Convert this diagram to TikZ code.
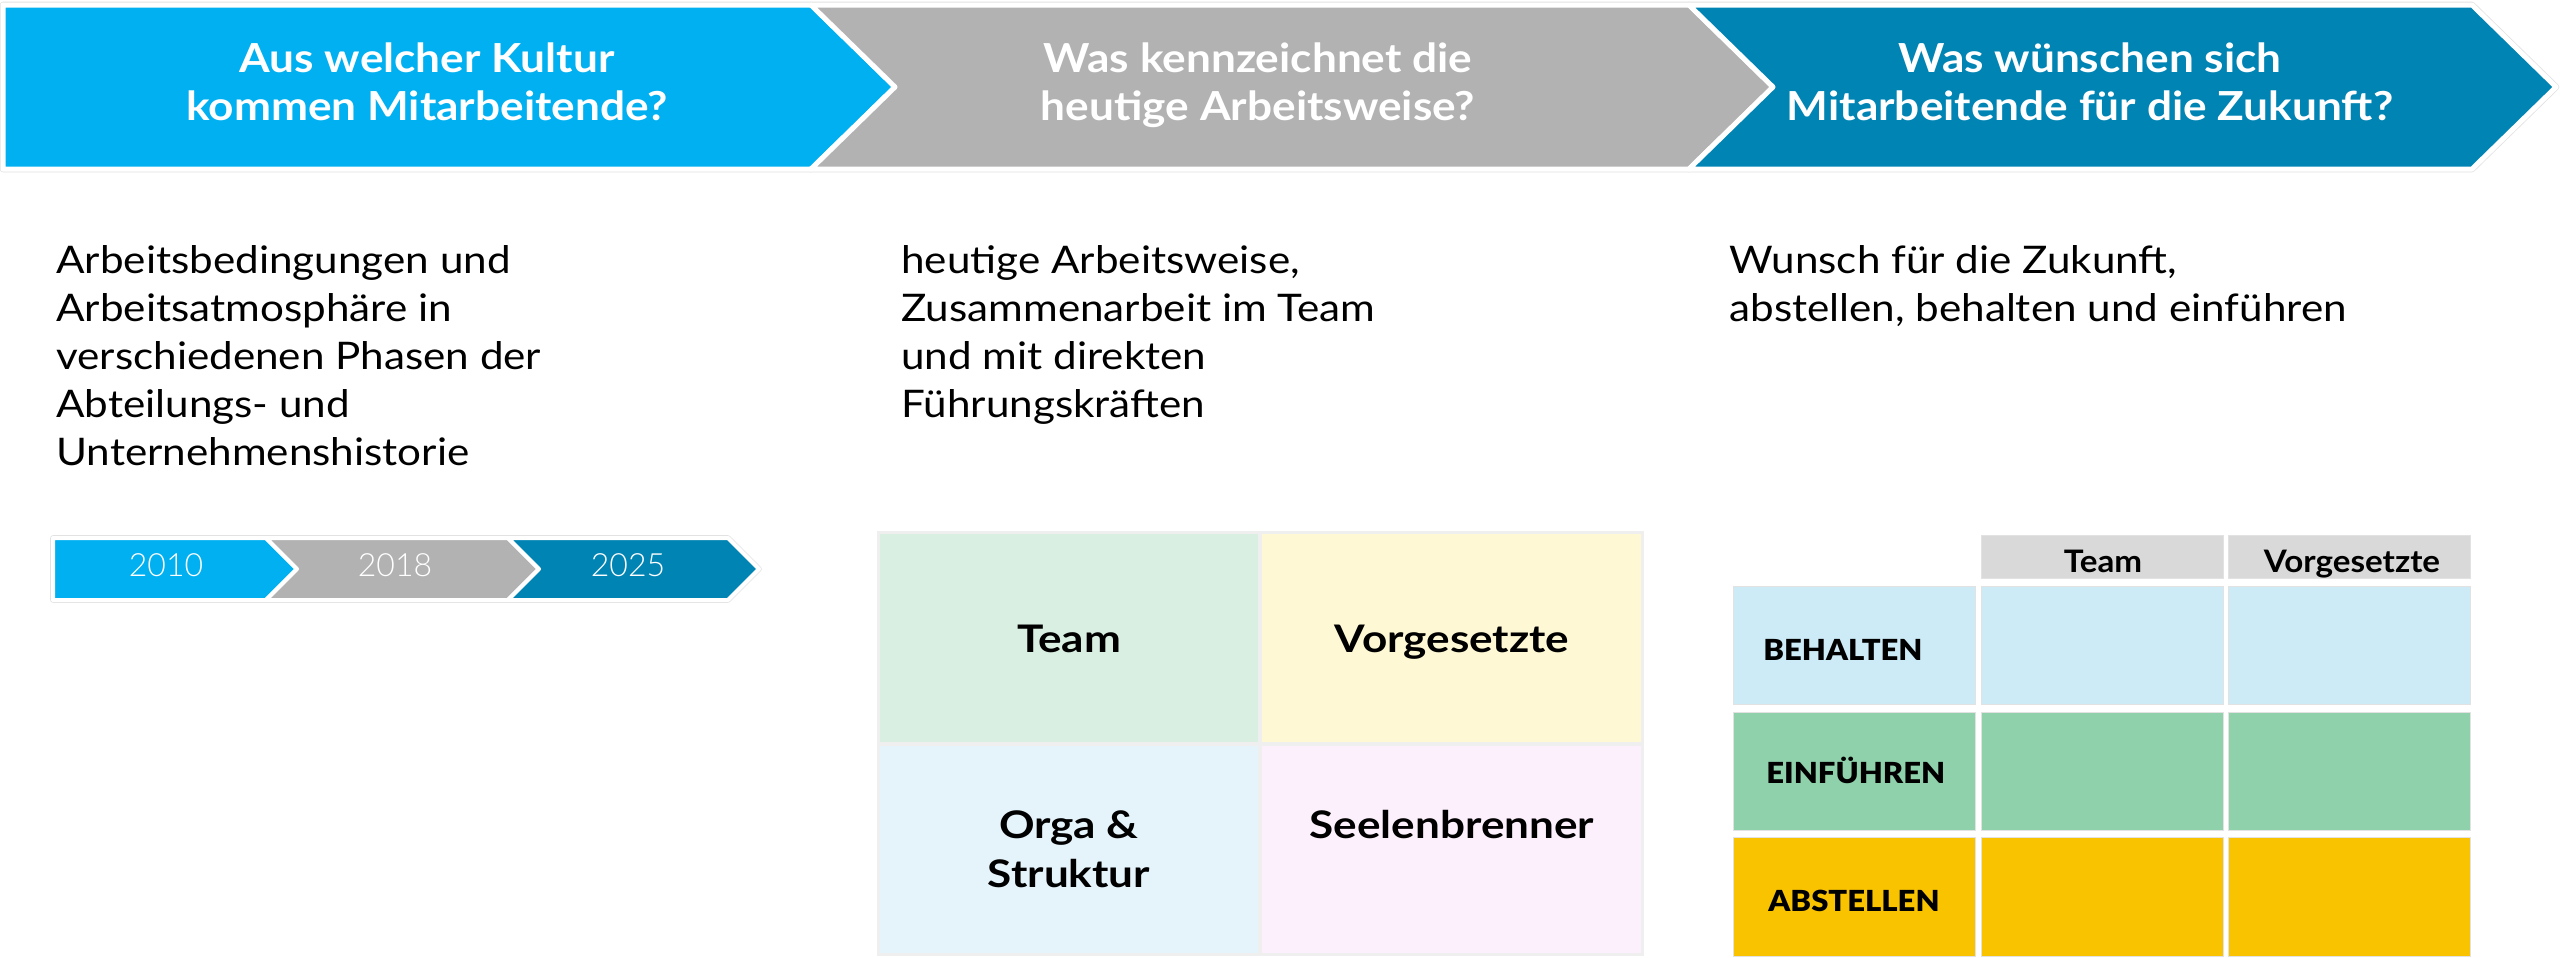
\documentclass[tikz,border=0pt]{standalone}
\usepackage{fontspec}
\setmainfont{Lato}
\newfontfamily\latolight{Lato Light}
\newfontfamily\labfont{Lato Black}[FakeStretch=1.07]
\newfontfamily\bodyfont{Lato}[FakeStretch=1.11]
\newfontfamily\headfont{Lato}[FakeStretch=1.105]
\newfontfamily\gridfont{Lato}[FakeStretch=1.16]
\newfontfamily\tabfont{Lato}[FakeStretch=1.07]
\definecolor{cyanC}{HTML}{00B0F0}
\definecolor{grayC}{HTML}{B2B2B2}
\definecolor{darkC}{HTML}{0084B4}
\definecolor{teamC}{HTML}{D8EFE2}
\definecolor{vorgC}{HTML}{FEF8D4}
\definecolor{orgaC}{HTML}{E5F4FB}
\definecolor{seelC}{HTML}{FCF0FC}
\definecolor{gridbg}{HTML}{EFEFF0}
\definecolor{headC}{HTML}{D9D9D9}
\definecolor{rowA}{HTML}{CDEBF6}
\definecolor{rowB}{HTML}{8ED1AA}
\definecolor{rowC}{HTML}{F9C300}
\definecolor{edgeC}{HTML}{E2E2E2}
\tikzset{
  chev/.style={draw=white, line width=2.5pt, line join=round},
  chevedge/.style={draw=edgeC, line width=3.3pt, line join=round},
  tchev/.style={draw=white, line width=2pt, line join=round},
  tchevedge/.style={draw=edgeC, line width=2.8pt, line join=round},
  headtxt/.style={text=white, font=\fontsize{20pt}{24pt}\selectfont\headfont\bfseries, align=center, inner sep=0pt, anchor=base},
  bodytxt/.style={text=black, font=\fontsize{19pt}{24pt}\selectfont\bodyfont, align=left, inner sep=0pt, anchor=base west},
  yeartxt/.style={text=white, font=\fontsize{16pt}{18pt}\selectfont\latolight, inner sep=0pt, anchor=base},
  gridtxt/.style={text=black, font=\fontsize{19pt}{24.5pt}\selectfont\gridfont\bfseries, align=center, inner sep=0pt, anchor=base},
  tabhead/.style={text=black, font=\fontsize{15.5pt}{18pt}\selectfont\tabfont\bfseries, inner sep=0pt, anchor=base},
  tablabel/.style={text=black, font=\fontsize{14.5pt}{18pt}\selectfont\labfont, inner sep=0pt, anchor=base west},
  cell/.style={draw=edgeC, line width=0.5pt}
}
\begin{document}
\begin{tikzpicture}[x=0.5pt,y=-0.5pt]
\useasboundingbox (0,0) rectangle (2560,958);
\fill[white] (0,0) rectangle (2560,958);

% ---------- header chevrons ----------
\path[chevedge] (3,5) -- (811,5) -- (895,87) -- (811,169) -- (3,169) -- cycle;
\path[chevedge] (811,5) -- (1689,5) -- (1773,87) -- (1689,169) -- (811,169) -- (895,87) -- cycle;
\path[chevedge] (1689,5) -- (2472,5) -- (2556,87) -- (2472,169) -- (1689,169) -- (1773,87) -- cycle;
\path[chev, fill=cyanC] (3,5) -- (811,5) -- (895,87) -- (811,169) -- (3,169) -- cycle;
\path[chev, fill=grayC] (811,5) -- (1689,5) -- (1773,87) -- (1689,169) -- (811,169) -- (895,87) -- cycle;
\path[chev, fill=darkC] (1689,5) -- (2472,5) -- (2556,87) -- (2472,169) -- (1689,169) -- (1773,87) -- cycle;

% anchor=base of a multi-line node = baseline of its last line
\node[headtxt] (h1) at (427,120) {Aus welcher Kultur\\kommen Mitarbeitende?};
\node[headtxt] (h2) at (1258,120) {Was kennzeichnet die\\heutige Arbeitsweise?};
\node[headtxt] (h3) at (2090,120) {Was wünschen sich\\Mitarbeitende für die Zukunft?};

% ---------- body texts ----------
\node[bodytxt] (b1) at (56,465) {Arbeitsbedingungen und\\Arbeitsatmosphäre in\\verschiedenen Phasen der\\Abteilungs- und\\Unternehmenshistorie};
\node[bodytxt] (b2) at (901,417) {heutige Arbeitsweise,\\Zusammenarbeit im Team\\und mit direkten\\Führungskräften};
\node[bodytxt] (b3) at (1729,321) {Wunsch für die Zukunft,\\abstellen, behalten und einführen};

% ---------- timeline ----------
\path[tchevedge] (53,538) -- (266,538) -- (297,569) -- (266,600) -- (53,600) -- cycle;
\path[tchevedge] (266,538) -- (508,538) -- (539,569) -- (508,600) -- (266,600) -- (297,569) -- cycle;
\path[tchevedge] (508,538) -- (728,538) -- (759,569) -- (728,600) -- (508,600) -- (539,569) -- cycle;
\path[tchev, fill=cyanC] (53,538) -- (266,538) -- (297,569) -- (266,600) -- (53,600) -- cycle;
\path[tchev, fill=grayC] (266,538) -- (508,538) -- (539,569) -- (508,600) -- (266,600) -- (297,569) -- cycle;
\path[tchev, fill=darkC] (508,538) -- (728,538) -- (759,569) -- (728,600) -- (508,600) -- (539,569) -- cycle;
\node[yeartxt] (y1) at (166,576) {2010};
\node[yeartxt] (y2) at (395,576) {2018};
\node[yeartxt] (y3) at (628,576) {2025};

% ---------- middle grid ----------
\fill[gridbg] (877,531) rectangle (1644,956);
\fill[teamC] (880,534) rectangle (1258,742);
\fill[vorgC] (1262,534) rectangle (1641,742);
\fill[orgaC] (880,746) rectangle (1258,953);
\fill[seelC] (1262,746) rectangle (1641,953);
\node[gridtxt] (g1) at (1069,652) {Team};
\node[gridtxt] (g2) at (1452,652) {Vorgesetzte};
\node[gridtxt] (g3) at (1069,887) {Orga \&\\Struktur};
\node[gridtxt] (g4) at (1452,838) {Seelenbrenner};

% ---------- right table ----------
\path[cell, fill=headC] (1981,535) rectangle (2223,578);
\path[cell, fill=headC] (2228,535) rectangle (2470,578);
\path[cell, fill=rowA] (1733,586) rectangle (1975,704);
\path[cell, fill=rowA] (1981,586) rectangle (2223,704);
\path[cell, fill=rowA] (2228,586) rectangle (2470,704);
\path[cell, fill=rowB] (1733,712) rectangle (1975,830);
\path[cell, fill=rowB] (1981,712) rectangle (2223,830);
\path[cell, fill=rowB] (2228,712) rectangle (2470,830);
\path[cell, fill=rowC] (1733,837) rectangle (1975,956);
\path[cell, fill=rowC] (1981,837) rectangle (2223,956);
\path[cell, fill=rowC] (2228,837) rectangle (2470,956);
\node[tabhead] (t1) at (2103,572) {Team};
\node[tabhead] (t2) at (2352,572) {Vorgesetzte};
\node[tablabel] (r1) at (1763,660) {BEHALTEN};
\node[tablabel] (r2) at (1766,783) {EINFÜHREN};
\node[tablabel] (r3) at (1768,911) {ABSTELLEN};
\end{tikzpicture}
\end{document}
